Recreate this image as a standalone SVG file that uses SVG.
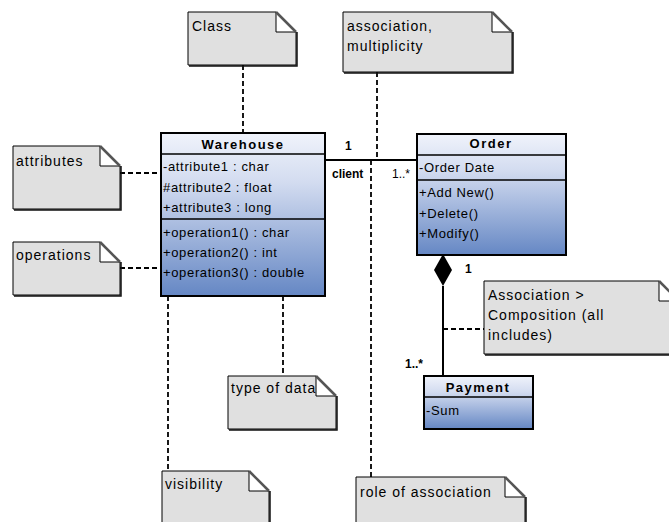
<svg xmlns="http://www.w3.org/2000/svg" width="669" height="522" viewBox="0 0 669 522">
<style>
.note{fill:#e0e0e0;stroke:#000;stroke-width:1}
.shadow{fill:none;stroke:#111;stroke-width:1.5}
.fold{fill:#fff;stroke:#000;stroke-width:1}
.foldline{stroke:#555;stroke-width:2.5}
.nt{font-family:"Liberation Sans",Arial,sans-serif;font-size:14px;letter-spacing:1px;fill:#000}
.cls{fill:url(#g);stroke:#000;stroke-width:2}
.sep{stroke:#000;stroke-width:1.5}
.ct{font-family:"Liberation Sans",Arial,sans-serif;font-size:13px;letter-spacing:0.65px;fill:#000}
.ch{font-family:"Liberation Sans",Arial,sans-serif;font-size:13px;font-weight:bold;letter-spacing:1.5px;fill:#000;text-anchor:middle}
.lb{font-family:"Liberation Sans",Arial,sans-serif;font-size:12px;fill:#000}
.b{font-weight:bold}
.dash{fill:none;stroke:#000;stroke-width:1.8;stroke-dasharray:5,3}
.solid{fill:none;stroke:#000;stroke-width:2}
</style>
<defs>
<linearGradient id="g" x1="0" y1="0" x2="0" y2="1">
<stop offset="0" stop-color="#f0f3fb"/>
<stop offset="0.3" stop-color="#d3dcf0"/>
<stop offset="1" stop-color="#6587c4"/>
</linearGradient>
</defs>
<g id="connectors">
<line class="dash" x1="243" y1="65" x2="243" y2="133"/>
<line class="dash" x1="377" y1="72" x2="377" y2="160"/>
<line class="dash" x1="371" y1="160" x2="371" y2="477"/>
<line class="dash" x1="120" y1="173" x2="161" y2="173"/>
<line class="dash" x1="120" y1="268" x2="161" y2="268"/>
<line class="dash" x1="283" y1="296" x2="283" y2="376"/>
<line class="dash" x1="168" y1="296" x2="168" y2="471"/>
<line class="dash" x1="443" y1="329" x2="484" y2="329"/>
<line class="solid" x1="325" y1="160" x2="417" y2="160"/>
<polygon points="443,254 452,270 443,286 434,270" fill="#000"/>
<line class="solid" x1="443" y1="286" x2="443" y2="376"/>
<text class="lb b" x="345" y="150">1</text>
<text class="lb b" x="332" y="178">client</text>
<text class="lb" x="392" y="178">1..*</text>
<text class="lb b" x="465" y="273">1</text>
<text class="lb b" x="405" y="368">1..*</text>
</g>
<g id="note-class">
<path class="shadow" d="M297 32V66H189"/>
<path class="note" d="M188 12H276L296 32V65H188Z"/>
<path class="fold" d="M276 12V32H296Z"/>
<line class="foldline" x1="276" y1="12" x2="296" y2="32"/>
<text class="nt" x="192" y="31">Class</text>
</g>
<g id="note-association">
<path class="shadow" d="M513 32V73H344"/>
<path class="note" d="M343 12H492L512 32V72H343Z"/>
<path class="fold" d="M492 12V32H512Z"/>
<line class="foldline" x1="492" y1="12" x2="512" y2="32"/>
<text class="nt" x="347" y="31">association,</text>
<text class="nt" x="347" y="51">multiplicity</text>
</g>
<g id="note-attributes">
<path class="shadow" d="M121 166V210H14"/>
<path class="note" d="M13 146H100L120 166V209H13Z"/>
<path class="fold" d="M100 146V166H120Z"/>
<line class="foldline" x1="100" y1="146" x2="120" y2="166"/>
<text class="nt" x="16" y="166">attributes</text>
</g>
<g id="note-operations">
<path class="shadow" d="M121 262V296H14"/>
<path class="note" d="M13 242H100L120 262V295H13Z"/>
<path class="fold" d="M100 242V262H120Z"/>
<line class="foldline" x1="100" y1="242" x2="120" y2="262"/>
<text class="nt" x="16" y="260">operations</text>
</g>
<g id="note-composition">
<path class="shadow" d="M680 301V355H485"/>
<path class="note" d="M484 281H659L679 301V354H484Z"/>
<path class="fold" d="M659 281V301H679Z"/>
<line class="foldline" x1="659" y1="281" x2="679" y2="301"/>
<text class="nt" x="488" y="300">Association &gt;</text>
<text class="nt" x="488" y="320">Composition (all</text>
<text class="nt" x="488" y="340">includes)</text>
</g>
<g id="note-typeofdata">
<path class="shadow" d="M337 396V430H229"/>
<path class="note" d="M228 376H316L336 396V429H228Z"/>
<path class="fold" d="M316 376V396H336Z"/>
<line class="foldline" x1="316" y1="376" x2="336" y2="396"/>
<text class="nt" x="231" y="393">type of data</text>
</g>
<g id="note-visibility">
<path class="shadow" d="M270 491V532"/>
<path class="note" d="M162 471H249L269 491V531H162Z"/>
<path class="fold" d="M249 471V491H269Z"/>
<line class="foldline" x1="249" y1="471" x2="269" y2="491"/>
<text class="nt" x="165" y="489">visibility</text>
</g>
<g id="note-role">
<path class="shadow" d="M526 497V537"/>
<path class="note" d="M356 477H505L525 497V537H356Z"/>
<path class="fold" d="M505 477V497H525Z"/>
<line class="foldline" x1="505" y1="477" x2="525" y2="497"/>
<text class="nt" x="360" y="497">role of association</text>
</g>
<g id="class-warehouse">
<rect class="cls" x="161" y="133" width="164" height="163"/>
<line class="sep" x1="161" y1="154" x2="325" y2="154"/>
<line class="sep" x1="161" y1="219" x2="325" y2="219"/>
<text class="ch" x="243" y="149">Warehouse</text>
<text class="ct" x="163" y="171">-attribute1 : char</text>
<text class="ct" x="163" y="191.5">#attribute2 : float</text>
<text class="ct" x="163" y="212">+attribute3 : long</text>
<text class="ct" x="163" y="237">+operation1() : char</text>
<text class="ct" x="163" y="257">+operation2() : int</text>
<text class="ct" x="163" y="277">+operation3() : double</text>
</g>
<g id="class-order">
<rect class="cls" x="417" y="134" width="149" height="121"/>
<line class="sep" x1="417" y1="155" x2="566" y2="155"/>
<line class="sep" x1="417" y1="180" x2="566" y2="180"/>
<text class="ch" x="491" y="148">Order</text>
<text class="ct" x="419" y="172">-Order Date</text>
<text class="ct" x="419" y="197">+Add New()</text>
<text class="ct" x="419" y="218">+Delete()</text>
<text class="ct" x="419" y="238">+Modify()</text>
</g>
<g id="class-payment">
<rect class="cls" x="424" y="376" width="109" height="53"/>
<line class="sep" x1="424" y1="397" x2="533" y2="397"/>
<text class="ch" x="478" y="392">Payment</text>
<text class="ct" x="426" y="415">-Sum</text>
</g>
</svg>
